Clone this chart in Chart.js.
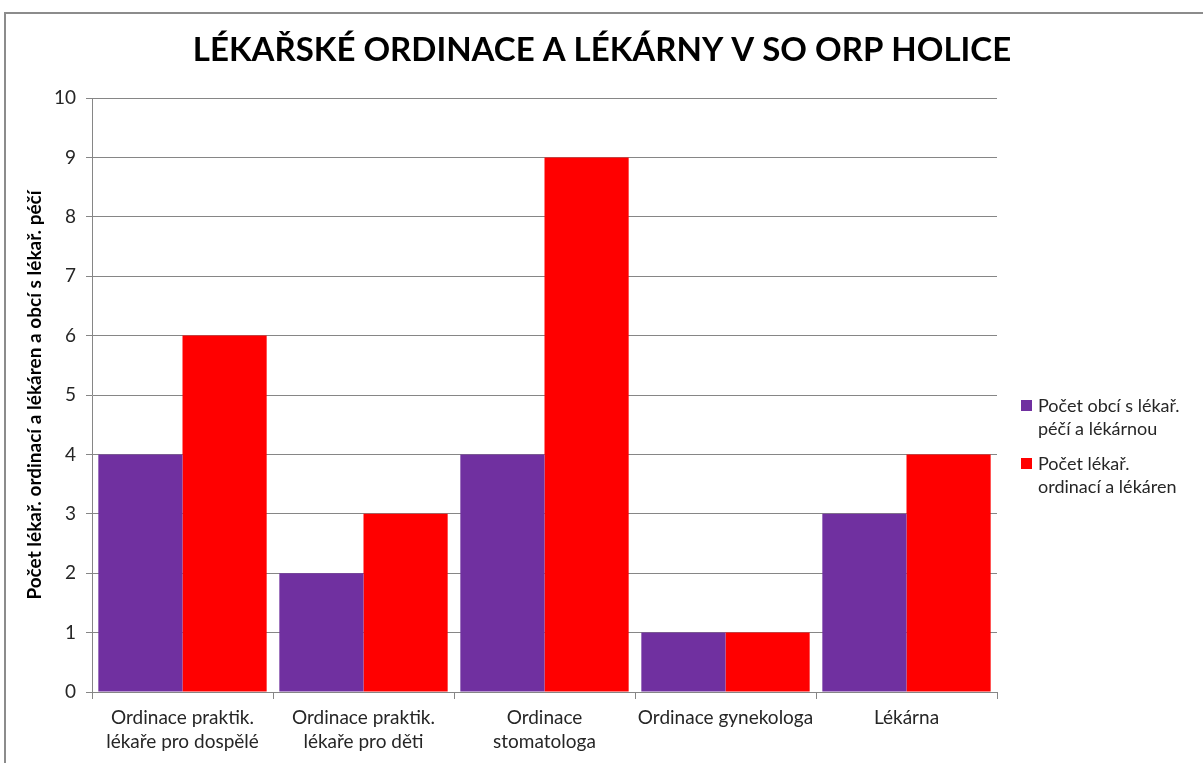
<!DOCTYPE html>
<html>
<head>
<meta charset="utf-8">
<script src="https://cdn.jsdelivr.net/npm/chart.js@4"></script>
<style>
  html, body { margin: 0; padding: 0; background: #fff; overflow: hidden; }
</style>
</head>
<body>
<canvas id="myChart" width="1203" height="763"></canvas>
<script>
var chartTitle = 'LÉKAŘSKÉ ORDINACE A LÉKÁRNY V SO ORP HOLICE';
var yTitle = 'Počet lékař. ordinací a lékáren a obcí s lékař. péčí';
var categories = [
  ['Ordinace praktik.', 'lékaře pro dospělé'],
  ['Ordinace praktik.', 'lékaře pro děti'],
  ['Ordinace', 'stomatologa'],
  'Ordinace gynekologa',
  'Lékárna'
];
var obceLabel = ['Počet obcí s lékař.', 'péčí a lékárnou'];
var ordinaceLabel = ['Počet lékař.', 'ordinací a lékáren'];
var obceValues = [4, 2, 4, 1, 3];
var ordinaceValues = [6, 3, 9, 1, 4];
var yTicks = [0, 1, 2, 3, 4, 5, 6, 7, 8, 9, 10];

var fontFam = 'Lato, "Open Sans", sans-serif';

// frame, title and two-line legend
var decor = {
  id: 'decor',
  afterDraw: function (chart) {
    var c = chart.ctx;
    c.save();
    c.strokeStyle = '#8c8c8c';
    c.lineWidth = 2;
    c.strokeRect(5, 13, 1400, 900);

    c.fillStyle = '#000';
    c.font = 'bold 33px ' + fontFam;
    c.textAlign = 'center';
    c.textBaseline = 'middle';
    c.fillText(chartTitle, 602, 50);

    c.textAlign = 'left';
    c.font = '18px ' + fontFam;
    var tops = [406, 464];
    chart.data.datasets.forEach(function (ds, i) {
      c.fillStyle = ds.backgroundColor;
      c.fillRect(1021, tops[i] - 6, 11, 11);
      c.fillStyle = '#262626';
      ds.label.forEach(function (line, j) {
        c.fillText(line, 1038, tops[i] + j * 23);
      });
    });
    c.restore();
  }
};

var ctx = document.getElementById('myChart').getContext('2d');
var myChart = new Chart(ctx, {
  type: 'bar',
  data: {
    labels: categories,
    datasets: [{
      label: obceLabel,
      data: obceValues,
      backgroundColor: '#7030a0',
      categoryPercentage: 0.93,
      barPercentage: 1
    }, {
      label: ordinaceLabel,
      data: ordinaceValues,
      backgroundColor: '#ff0000',
      categoryPercentage: 0.93,
      barPercentage: 1
    }]
  },
  options: {
    responsive: false,
    animation: false,
    layout: { padding: { left: 0, top: 98, right: 206, bottom: 0 } },
    scales: {
      x: {
        grid: {
          offset: true,
          drawOnChartArea: false,
          color: '#868686',
          tickLength: 7
        },
        border: { color: '#868686' },
        ticks: {
          color: '#262626',
          font: { family: fontFam, size: 19, lineHeight: 1.25 },
          maxRotation: 0,
          autoSkip: false,
          padding: 7
        },
        afterFit: function (s) { s.height = 71; }
      },
      y: {
        min: 0,
        max: 10,
        afterBuildTicks: function (s) {
          s.ticks = yTicks.map(function (v) { return { value: v }; });
        },
        grid: { color: '#868686', tickLength: 6 },
        border: { color: '#868686' },
        ticks: {
          color: '#262626',
          font: { family: fontFam, size: 19 },
          padding: 10
        },
        title: {
          display: true,
          text: yTitle,
          color: '#000',
          font: { family: fontFam, size: 19, weight: 'bold' },
          padding: { top: 23, bottom: 0 }
        },
        afterFit: function (s) { s.width = 92; }
      }
    },
    plugins: {
      legend: { display: false },
      tooltip: { enabled: false }
    }
  },
  plugins: [decor]
});
</script>
</body>
</html>
